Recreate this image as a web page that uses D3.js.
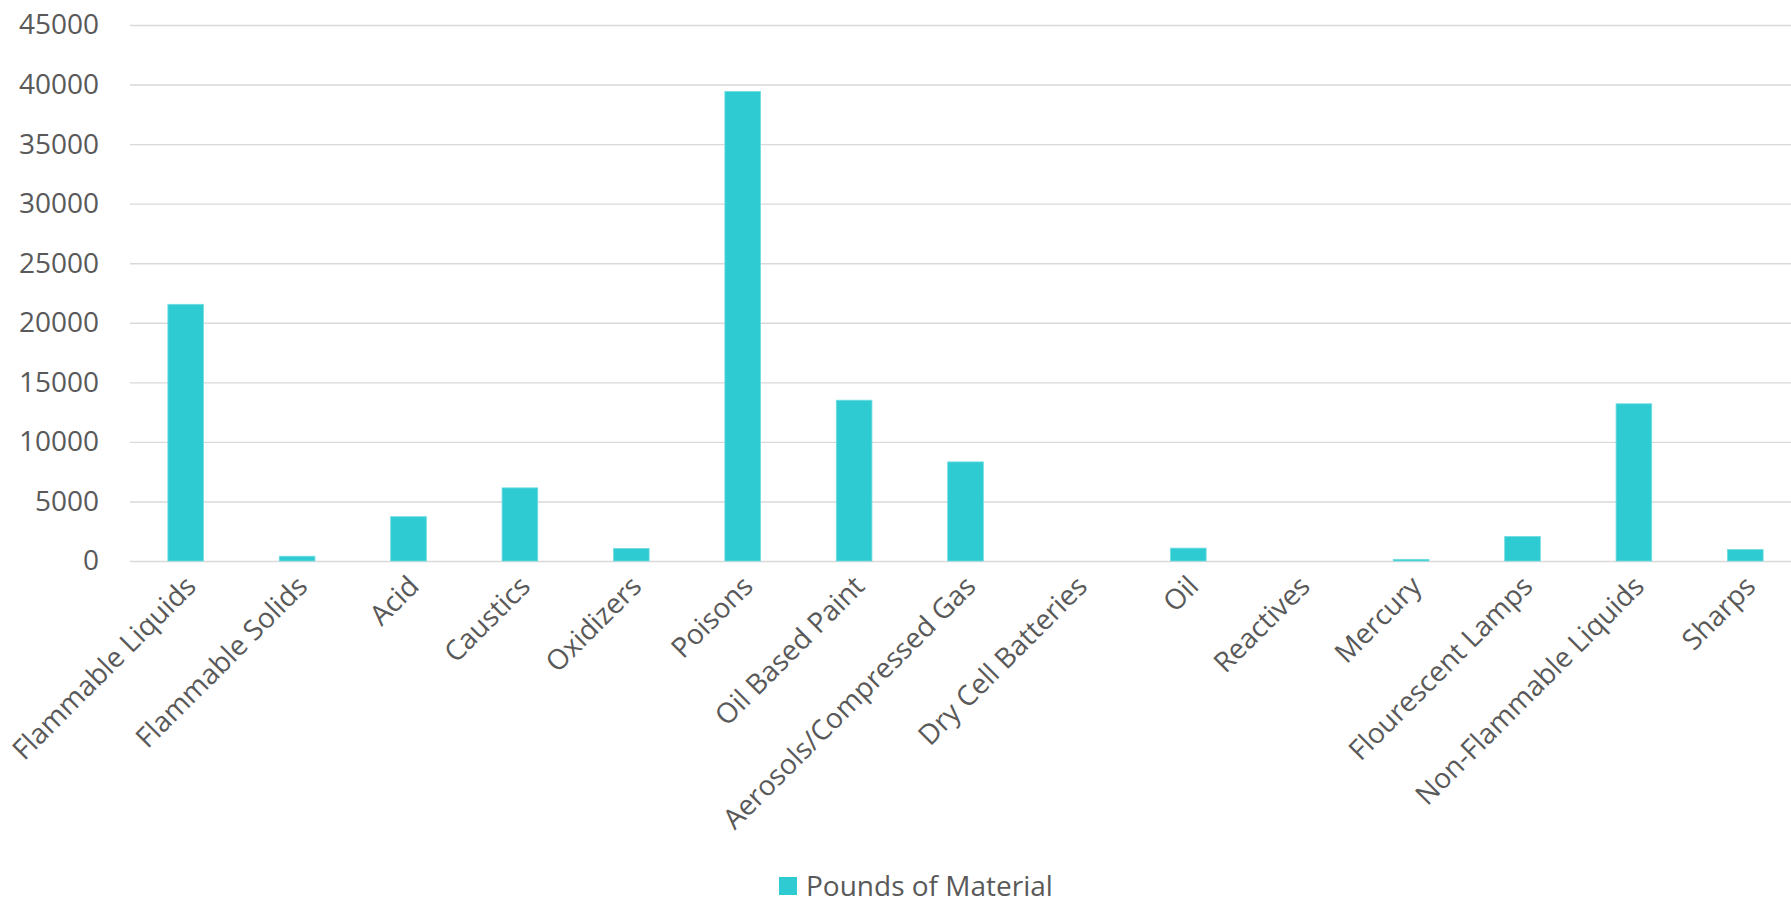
<!DOCTYPE html>
<html>
<head>
<meta charset="utf-8">
<script src="https://cdn.jsdelivr.net/npm/d3@7"></script>
<style>
  body { margin: 0; background: #fff; }
  text { font-family: "Open Sans", "Noto Sans", sans-serif; fill: #595959; }
</style>
</head>
<body>
<div class="bar-chart-container"></div>
<script>
// chart data
const categories = [
    "Flammable Liquids", "Flammable Solids", "Acid", "Caustics", "Oxidizers",
    "Poisons", "Oil Based Paint", "Aerosols/Compressed Gas", "Dry Cell Batteries",
    "Oil", "Reactives", "Mercury", "Flourescent Lamps", "Non-Flammable Liquids", "Sharps"
];
const pounds = [
    21550, 400, 3720, 6140, 1050,
    39420, 13500, 8320, 0,
    1080, 0, 140, 2060, 13200, 970
];
const yTicks = [0, 5000, 10000, 15000, 20000, 25000, 30000, 35000, 40000, 45000];
const seriesName = "Pounds of Material";

const width = 1791;
const height = 906;
const plotLeft = 130;
const plotRight = 1801;   // plot runs a bit past the picture edge, as in the reference
const plotTop = 25;
const plotBottom = 561;
const barColor = "#2ecbd2";
const fontSize = 28;

let svg = d3.select(".bar-chart-container").append("svg")
    .attr("width", width)
    .attr("height", height);

let xScale = d3.scaleBand()
    .domain(categories)
    .range([plotLeft, plotRight])
    .paddingInner(0.68)
    .paddingOuter(0.34);
let yScale = d3.scaleLinear()
    .domain([0, 45000])
    .range([plotBottom, plotTop]);

// gridlines + y labels
let yAxis = d3.axisLeft(yScale)
    .tickValues(yTicks)
    .tickSize(-(plotRight - plotLeft))
    .tickPadding(31)
    .tickFormat(d => d);
let yG = svg.append("g")
    .attr("transform", "translate(" + plotLeft + ",0)")
    .call(yAxis);
yG.select(".domain").remove();
yG.selectAll(".tick line")
    .attr("stroke", "#d9d9d9")
    .attr("stroke-width", 1.4);
yG.selectAll(".tick text")
    .attr("font-size", fontSize)
    .attr("fill", "#595959");

// bars
svg.selectAll("rect.bar")
    .data(pounds)
    .enter()
    .append("rect")
    .attr("class", "bar")
    .attr("x", (d, i) => xScale(categories[i]))
    .attr("width", xScale.bandwidth())
    .attr("y", d => yScale(d))
    .attr("height", d => plotBottom - yScale(d))
    .attr("fill", barColor)
    .attr("stroke", "#6fdde2")
    .attr("stroke-width", d => d > 0 ? 0.8 : 0);

// x labels, rotated like Excel does
let xAxis = d3.axisBottom(xScale).tickSize(0).tickPadding(0);
let xG = svg.append("g")
    .attr("transform", "translate(0," + plotBottom + ")")
    .call(xAxis);
xG.select(".domain").remove();
xG.selectAll(".tick text")
    .attr("font-size", fontSize)
    .attr("fill", "#595959")
    .attr("text-anchor", "end")
    .attr("dy", 0)
    .attr("transform", "translate(12,27) rotate(-45)");

// legend (nudged up so the text box stays inside the picture)
let legend = svg.append("g").attr("transform", "translate(779,877)");
legend.append("rect")
    .attr("width", 18)
    .attr("height", 18)
    .attr("fill", barColor);
legend.append("text")
    .attr("x", 27)
    .attr("y", 9)
    .attr("dy", "0.35em")
    .attr("font-size", fontSize)
    .text(seriesName);
</script>
</body>
</html>
